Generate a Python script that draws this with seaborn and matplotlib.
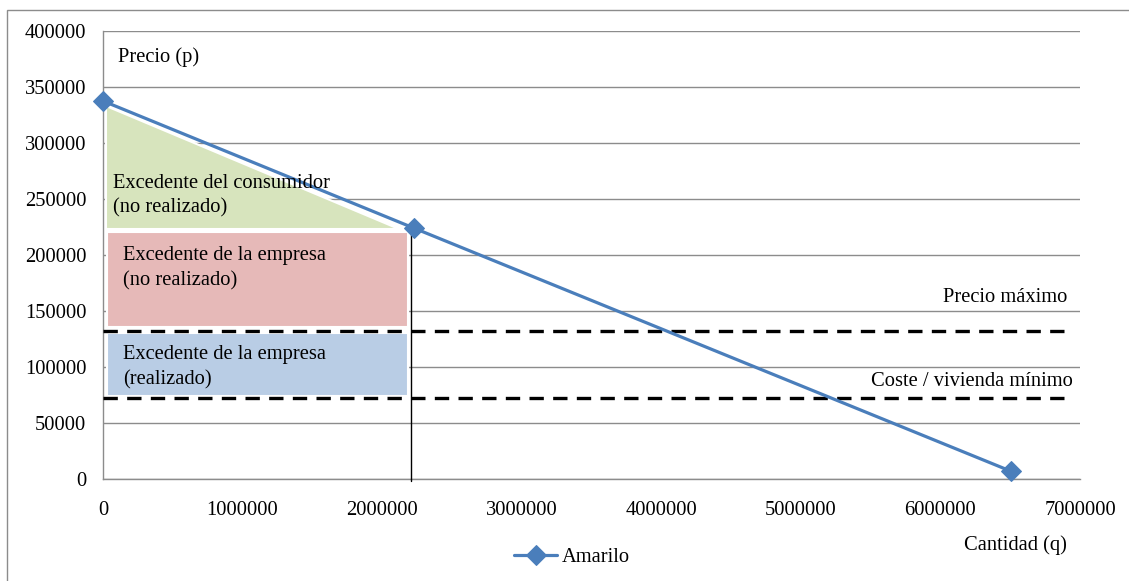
import matplotlib
matplotlib.use("Agg")
import matplotlib.pyplot as plt
from matplotlib.patches import Polygon, Rectangle
import numpy as np
import pandas as pd
import seaborn as sns

# Demand curve series
cantidad = [0, 2228000, 6504000]
precio = [337500, 224000, 7000]
serie = "Amarilo"

# Horizontal reference levels
precio_maximo = 132000
coste_minimo = 72000
q_equilibrio = 2206000
x_fin_referencias = 6890000

# Axis ticks
x_ticks = [0, 1000000, 2000000, 3000000, 4000000, 5000000, 6000000, 7000000]
y_ticks = [0, 50000, 100000, 150000, 200000, 250000, 300000, 350000, 400000]

sns.set_style("white")
plt.rcParams["font.family"] = ["Liberation Serif", "DejaVu Serif"]
plt.rcParams["text.color"] = "black"

FS = 14.8
GRID = "#8c8c8c"
BLUE = "#4a7ebb"

fig = plt.figure(figsize=(11.29, 5.81), dpi=100)
W, H = 1129, 581
ax = fig.add_axes([103 / W, 1 - 479 / H, (1080 - 103) / W, (479 - 31) / H])

# outer chart frame
fig.patches.append(Rectangle((7 / W, -0.1), 1.2, 1 - 10 / H + 0.1,
                             transform=fig.transFigure, fill=False,
                             edgecolor="#8c8c8c", linewidth=1.0, zorder=0))

# surplus regions
ax.add_patch(Polygon([(20000, 333000), (20000, 223000), (2120000, 223000)],
                     closed=True, facecolor="#d7e4bd", edgecolor="white",
                     linewidth=1.5, zorder=2))
ax.add_patch(Rectangle((30000, 135700), 2155000, 220500 - 135700,
                       facecolor="#e6b9b8", edgecolor="white",
                       linewidth=1.5, zorder=2))
ax.add_patch(Rectangle((30000, 74100), 2155000, 130400 - 74100,
                       facecolor="#b9cde5", edgecolor="white",
                       linewidth=1.5, zorder=2))

# dashed reference levels
for nivel in (precio_maximo, coste_minimo):
    ax.plot([0, x_fin_referencias], [nivel, nivel], color="black",
            linewidth=2.4, dashes=(4.3, 2.8), zorder=3)

# quantity marker
ax.plot([q_equilibrio, q_equilibrio], [-2000, precio[1]], color="black",
        linewidth=1.0, zorder=3, clip_on=False)

df = pd.DataFrame({"Cantidad": cantidad, "Precio": precio, "Serie": serie})
sns.lineplot(data=df, x="Cantidad", y="Precio", hue="Serie",
             palette=[BLUE], marker="D", markersize=10, markeredgecolor=BLUE,
             linewidth=2.3, ax=ax, zorder=4, clip_on=False, legend=True)

ax.set_xlim(0, 7000000)
ax.set_ylim(0, 400000)
ax.set_xticks(x_ticks)
ax.set_yticks(y_ticks)
ax.set_xticklabels([str(v) for v in x_ticks])
ax.set_yticklabels([str(v) for v in y_ticks])
ax.set_xlabel("")
ax.set_ylabel("")
ax.yaxis.grid(True, color=GRID, linewidth=1.0)
ax.xaxis.grid(False)
ax.set_axisbelow(True)
for s in ("top", "right"):
    ax.spines[s].set_visible(False)
for s in ("left", "bottom"):
    ax.spines[s].set_color(GRID)
    ax.spines[s].set_linewidth(1.0)
ax.tick_params(axis="both", direction="out", length=4, width=1.0,
               color=GRID, labelsize=FS, labelcolor="black")
ax.tick_params(axis="y", pad=8)
ax.tick_params(axis="x", pad=12)

# annotations
ax.text(107000, 376800, "Precio (p)", fontsize=FS, va="center", ha="left")
ax.text(72000, 253000, "Excedente del consumidor\n(no realizado)",
        fontsize=FS, va="center", ha="left", linespacing=1.4, zorder=5)
ax.text(143000, 188000, "Excedente de la empresa\n(no realizado)",
        fontsize=FS, va="center", ha="left", linespacing=1.4, zorder=5)
ax.text(143000, 99600, "Excedente de la empresa\n(realizado)",
        fontsize=FS, va="center", ha="left", linespacing=1.4, zorder=5)
ax.text(6910000, 162500, "Precio máximo", fontsize=FS, va="center", ha="right")
ax.text(6950000, 87500, "Coste / vivienda mínimo", fontsize=FS,
        va="center", ha="right")
fig.text(1067 / W, 1 - 545 / H, "Cantidad (q)", fontsize=FS,
         va="center", ha="right")

handles, labels = ax.get_legend_handles_labels()
ax.get_legend().remove()
fig.legend(handles, labels, loc="center", bbox_to_anchor=(572 / W, 1 - 557 / H),
           frameon=False, fontsize=FS, handlelength=2.1, handletextpad=0.2)

fig.savefig("out.png", dpi=100)
